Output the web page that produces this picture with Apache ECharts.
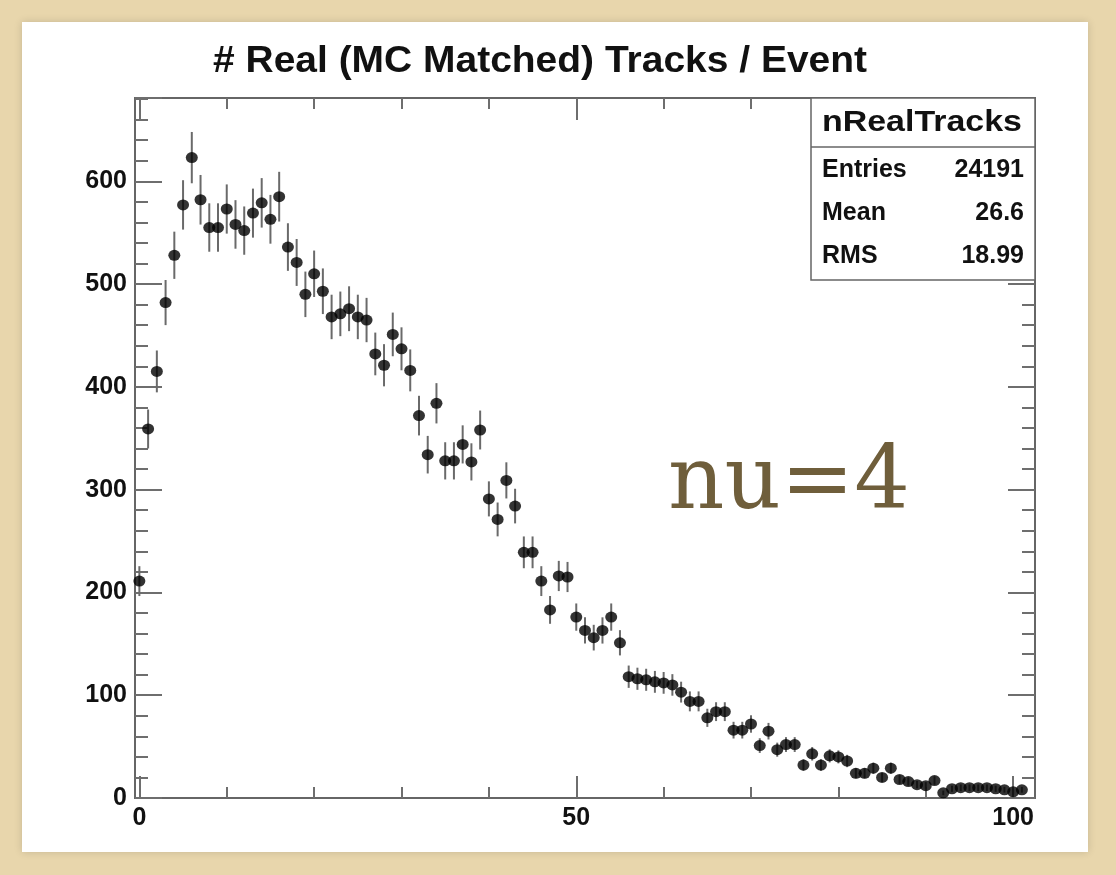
<!DOCTYPE html>
<html>
<head>
<meta charset="utf-8">
<script src="https://cdn.jsdelivr.net/npm/echarts@6/dist/echarts.min.js"></script>
<style>
html,body{margin:0;padding:0;background:#e8d6ac;}
#chart{width:1116px;height:875px;}
</style>
</head>
<body>
<div id="chart"></div>
<script>
// ---- data (bin centre = number of tracks, value = events) ----
const binCenters = [];
for (let i = 0; i <= 101; i++) binCenters.push(i);
const counts = [
  211, 359, 415, 482, 528, 577, 623, 582, 555, 555,
  573, 558, 552, 569, 579, 563, 585, 536, 521, 490,
  510, 493, 468, 471, 476, 468, 465, 432, 421, 451,
  437, 416, 372, 334, 384, 328, 328, 344, 327, 358,
  291, 271, 309, 284, 239, 239, 211, 183, 216, 215,
  176, 163, 156, 163, 176, 151, 118, 116, 115, 113,
  112, 110, 103, 94, 94, 78, 84, 84, 66, 66,
  72, 51, 65, 47, 52, 52, 32, 43, 32, 41,
  40, 36, 24, 24, 29, 20, 29, 18, 16, 13,
  12, 17, 5, 9, 10, 10, 10, 10, 9, 8,
  6, 8
];
const xLabelValues = [0, 50, 100];
const xMinorTickValues = [10, 20, 30, 40, 60, 70, 80, 90];
const titleText = '# Real (MC Matched) Tracks / Event';
const statsName = 'nRealTracks';
const statsRows = [['Entries', '24191'], ['Mean', '26.6'], ['RMS', '18.99']];
const noteText = 'nu=4';

// Poisson (sqrt N) error of each histogram bin, as drawn by ROOT
const points = binCenters.map((x, i) => [x, counts[i], Math.sqrt(counts[i])]);

const chart = echarts.init(document.getElementById('chart'));

const mctx = document.createElement('canvas').getContext('2d');
function fitScale(text, font, target) {
  mctx.font = font;
  return target / mctx.measureText(text).width;
}

const SANS = '"Liberation Sans", Arial, sans-serif';
const tickColor = '#6e6e6e';
const labelStyle = { fontFamily: SANS, fontWeight: 'bold', fontSize: 25, color: '#111' };

const titleFont = 'bold 36px "Liberation Sans"';
const headFont = 'bold 29px "Liberation Sans"';
const statFont = 'bold 25px "Liberation Sans"';
const noteFont = '88px "DejaVu Serif"';

const graphics = [
  { type: 'rect', z: -10, shape: { x: 22, y: 22, width: 1066, height: 830 },
    style: { fill: '#ffffff', shadowBlur: 8, shadowColor: 'rgba(0,0,0,0.15)' } },
  { type: 'text', x: 540, y: 62, scaleX: fitScale(titleText, titleFont, 654), z: 10,
    style: { text: titleText, x: 0, y: 0, align: 'center', verticalAlign: 'middle',
             font: titleFont, fill: '#111' } },
  { type: 'rect', z: 50, shape: { x: 811, y: 98, width: 224, height: 182 },
    style: { fill: '#fff', stroke: '#666', lineWidth: 1.5 } },
  { type: 'line', z: 51, shape: { x1: 811, y1: 147, x2: 1035, y2: 147 },
    style: { stroke: '#666', lineWidth: 1.5 } },
  { type: 'text', x: 922, y: 123, z: 52, scaleX: fitScale(statsName, headFont, 200),
    style: { text: statsName, x: 0, y: 0, align: 'center', verticalAlign: 'middle', font: headFont, fill: '#111' } },
  { type: 'text', x: 668, y: 441, z: 5, scaleX: fitScale(noteText, noteFont, 242),
    style: { text: noteText, x: 0, y: 0, align: 'left', verticalAlign: 'top', font: noteFont, fill: '#6f5e3b' } }
];
const rowY = [170, 213, 256];
statsRows.forEach((r, i) => {
  graphics.push({ type: 'text', x: 822, y: rowY[i], z: 52,
    style: { text: r[0], x: 0, y: 0, align: 'left', verticalAlign: 'middle', font: statFont, fill: '#111' } });
  graphics.push({ type: 'text', x: 1024, y: rowY[i], z: 52,
    style: { text: r[1], x: 0, y: 0, align: 'right', verticalAlign: 'middle', font: statFont, fill: '#111' } });
});

function xAxisDef(position, tickVals, len, showLabels) {
  return {
    type: 'value', gridIndex: 0, position: position, min: -0.5, max: 102.5,
    axisLine: { show: false, onZero: false },
    splitLine: { show: false },
    axisTick: { show: true, inside: true, length: len, customValues: tickVals,
                lineStyle: { color: tickColor, width: 2 } },
    axisLabel: showLabels
      ? Object.assign({ show: true, margin: 8, customValues: xLabelValues }, labelStyle)
      : { show: false }
  };
}
function yAxisDef(position, showLabels) {
  return {
    type: 'value', gridIndex: 0, position: position, min: 0, max: 681, interval: 100,
    axisLine: { show: false, onZero: false },
    splitLine: { show: false },
    axisTick: { show: true, inside: true, length: 27, lineStyle: { color: tickColor, width: 2 } },
    minorTick: { show: true, splitNumber: 5, length: 13, lineStyle: { color: tickColor, width: 2 } },
    axisLabel: showLabels ? Object.assign({ show: true, margin: 8, showMaxLabel: false }, labelStyle) : { show: false }
  };
}

chart.setOption({
  backgroundColor: '#e8d6ac',
  animation: false,
  graphic: graphics,
  grid: { left: 135, right: 81, top: 98, bottom: 77, show: true,
          borderColor: '#666', borderWidth: 2, backgroundColor: 'transparent' },
  xAxis: [
    xAxisDef('bottom', xLabelValues, 22, true),
    xAxisDef('bottom', xMinorTickValues, 11, false),
    xAxisDef('top', xLabelValues, 22, false),
    xAxisDef('top', xMinorTickValues, 11, false)
  ],
  yAxis: [yAxisDef('left', true), yAxisDef('right', false)],
  series: [
    {
      type: 'custom', xAxisIndex: 0, yAxisIndex: 0, z: 3,
      data: points,
      renderItem: function (params, api) {
        const x = api.value(0), v = api.value(1), e = api.value(2);
        const p1 = api.coord([x, v - e]);
        const p2 = api.coord([x, v + e]);
        return { type: 'line', shape: { x1: p1[0], y1: p1[1], x2: p2[0], y2: p2[1] },
                 style: { stroke: '#6a6a6a', lineWidth: 2 } };
      },
      encode: { x: 0, y: 1 }
    },
    {
      type: 'scatter', xAxisIndex: 0, yAxisIndex: 0, z: 4,
      data: points.map(p => [p[0], p[1]]),
      symbol: 'circle', symbolSize: [12, 11],
      itemStyle: { color: '#000' }
    }
  ]
});
</script>
</body>
</html>
